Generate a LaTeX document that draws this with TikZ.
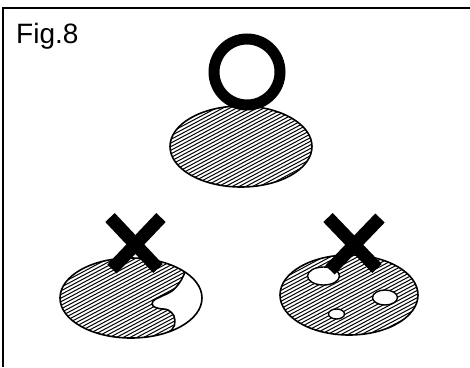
\documentclass[tikz,border=0pt]{standalone}
\usepackage{fontspec}
\setmainfont{Liberation Sans}
\begin{document}
\begin{tikzpicture}[x=1pt,y=-1pt,
  outline/.style={line width=1.6pt},
  hatchline/.style={line width=1pt},
  cross/.style={line width=13pt, line cap=butt},
  hole/.style={fill=white, draw, line width=1.4pt}]
\useasboundingbox (0,0) rectangle (470,367);
% frame
\draw[line width=1.2pt] (470,8) -- (3,8) -- (3,367);
\node[anchor=base west, inner sep=0pt, font=\fontsize{28}{28}\selectfont] (title) at (16,43) {Fig.8};
% hatching macro
\newcommand{\hatchlines}[2]{%
  \begin{scope}[shift={(#1,#2)}, rotate=28]
    \foreach \d in {-100,-96.8,...,100} \draw[hatchline] (-110,\d) -- (110,\d);
  \end{scope}}
% top ellipse
\begin{scope}
  \clip (241,146.5) ellipse [x radius=71, y radius=40.5];
  \hatchlines{241}{146.5}
\end{scope}
\draw[outline] (241,146.5) ellipse [x radius=71, y radius=40.5];
\draw[line width=11pt] (247,72) circle [radius=33];
% bottom-left ellipse
\begin{scope}
  \clip (131,298) ellipse [x radius=71, y radius=40];
  \clip plot[smooth, tension=0.6] coordinates {(186,266) (185,272) (180,282) (172,291) (160,297) (153,301) (153,306) (159,308.5) (168,310) (174,316) (174.5,325) (170,332) (164,340)} -- (164,400) -- (0,400) -- (0,200) -- (186,200) -- cycle;
  \hatchlines{131}{298}
\end{scope}
\begin{scope}
  \clip (131,298) ellipse [x radius=71, y radius=40];
  \draw[outline] plot[smooth, tension=0.6] coordinates {(186,266) (185,272) (180,282) (172,291) (160,297) (153,301) (153,306) (159,308.5) (168,310) (174,316) (174.5,325) (170,332) (164,340)};
\end{scope}
\draw[outline] (131,298) ellipse [x radius=71, y radius=40];
% bottom-right ellipse
\begin{scope}
  \clip (349,295) ellipse [x radius=69, y radius=40];
  \hatchlines{349}{295}
\end{scope}
\draw[outline] (349,295) ellipse [x radius=69, y radius=40];
\draw[hole] (323.5,276) ellipse [x radius=16, y radius=9];
\draw[hole] (385,297.5) ellipse [x radius=12.5, y radius=7.5];
\draw[hole] (336.5,314) ellipse [x radius=8, y radius=5];
% crosses
\draw[cross] (110,217.5) -- (158,268.5);
\draw[cross] (161,217.5) -- (112,269);
\draw[cross] (328,217.5) -- (377,268.5);
\draw[cross] (380,218) -- (330,270);
\end{tikzpicture}
\end{document}
